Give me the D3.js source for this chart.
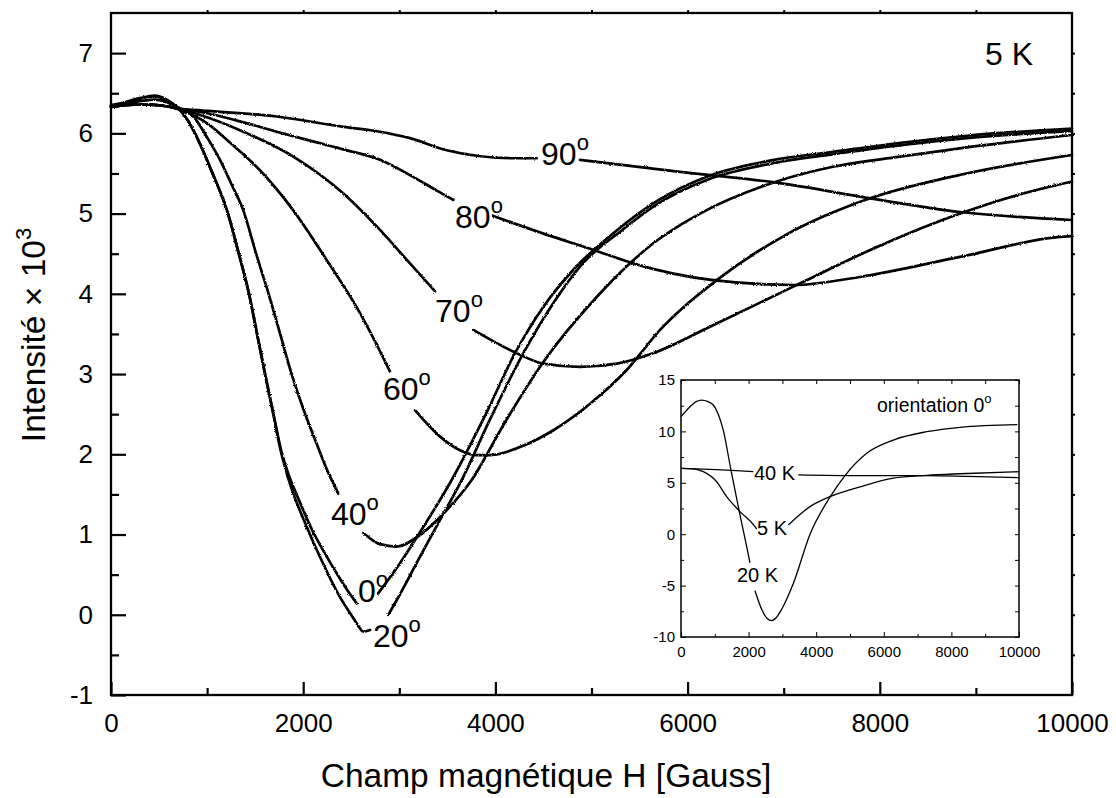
<!DOCTYPE html>
<html>
<head>
<meta charset="utf-8">
<script src="https://cdn.jsdelivr.net/npm/d3@7"></script>
<style>
  body { margin: 0; background: #fff; }
  svg { display: block; }
  text { font-family: "Liberation Sans", Arial, sans-serif; fill: #000; }
</style>
</head>
<body>
<svg id="chart" width="1116" height="798"></svg>
<script>
// ---- Main panel: EPR intensity vs field at 5 K, one trace per orientation ----
const xTicksMain = [0, 2000, 4000, 6000, 8000, 10000];
const xMinorMain = [1000, 3000, 5000, 7000, 9000];
const yTicksMain = [-1, 0, 1, 2, 3, 4, 5, 6, 7];
const yMinorMain = [-0.5, 0.5, 1.5, 2.5, 3.5, 4.5, 5.5, 6.5];

// [H (Gauss), intensity x 10^3]; null marks the gap left for the curve label
const curve0 = [[0,6.35],[150,6.39],[300,6.44],[450,6.46],[580,6.41],[684,6.33],[800,6.16],[874,6.0],[1050,5.52],[1217,5.0],[1330,4.5],[1436,4.0],[1520,3.5],[1603,3.0],[1690,2.5],[1770,2.05],[1850,1.74],[1949,1.45],[2100,1.04],[2209,0.80],[2383,0.45],[2480,0.27],[2557,0.14],null,[2782,0.27],[3000,0.63],[3216,1.03],[3545,1.68],[3900,2.5],[4204,3.26],[4500,3.84],[4811,4.30],[5262,4.79],[5700,5.17],[6200,5.46],[6900,5.67],[7517,5.77],[8200,5.88],[8904,5.97],[10000,6.06]];
const curve20 = [[0,6.34],[150,6.38],[300,6.43],[450,6.47],[580,6.42],[684,6.33],[800,6.16],[874,6.0],[1050,5.52],[1217,5.0],[1330,4.5],[1436,4.0],[1520,3.5],[1603,3.0],[1690,2.5],[1765,2.05],[1840,1.72],[1900,1.5],[2000,1.2],[2175,0.72],[2383,0.22],[2521,-0.04],[2580,-0.15],[2626,-0.21],[2695,-0.19],null,[2886,0.0],[3000,0.24],[3200,0.69],[3400,1.13],[3650,1.68],[3950,2.45],[4291,3.26],[4600,3.88],[4880,4.34],[5314,4.79],[5700,5.13],[6200,5.42],[6900,5.63],[7517,5.74],[8200,5.85],[8904,5.94],[10000,6.03]];
const curve40 = [[0,6.35],[150,6.37],[300,6.40],[450,6.42],[600,6.38],[720,6.31],[857,6.21],[1000,5.95],[1134,5.67],[1260,5.35],[1377,5.04],[1510,4.5],[1640,4.0],[1760,3.5],[1880,3.0],[2000,2.57],[2140,2.13],[2250,1.8],[2366,1.51],null,[2626,1.02],[2800,0.88],[2973,0.85],[3200,0.98],[3450,1.25],[3753,1.68],[4100,2.4],[4499,3.15],[5054,3.96],[5643,4.63],[6129,5.0],[6927,5.40],[7500,5.58],[8210,5.71],[9000,5.84],[10000,5.98]];
const curve60 = [[0,6.33],[300,6.36],[500,6.35],[700,6.30],[1030,6.1],[1204,5.92],[1550,5.54],[1897,5.04],[2245,4.42],[2591,3.76],[2834,3.2],[2903,3.03],null,[3163,2.55],[3424,2.22],[3632,2.05],[3800,1.99],[3950,1.99],[4256,2.09],[4603,2.30],[4985,2.63],[5366,3.05],[5713,3.55],[6303,4.17],[7000,4.72],[7898,5.19],[8900,5.5],[10000,5.73]];
const curve70 = [[0,6.33],[300,6.36],[500,6.35],[700,6.31],[1000,6.2],[1377,6.02],[1897,5.71],[2418,5.25],[2765,4.84],[3111,4.38],[3372,4.03],null,[3770,3.55],[4221,3.26],[4499,3.13],[4880,3.09],[5262,3.13],[5640,3.26],[6233,3.59],[7100,4.09],[8000,4.6],[8835,5.0],[9400,5.22],[10000,5.40]];
const curve80 = [[0,6.33],[300,6.36],[500,6.35],[700,6.31],[1000,6.25],[1400,6.13],[1724,6.02],[2100,5.9],[2418,5.8],[2799,5.67],[3111,5.48],[3400,5.28],[3562,5.17],null,[3978,4.97],[4500,4.75],[5016,4.55],[5432,4.38],[6265,4.17],[7099,4.11],[7794,4.21],[8835,4.46],[9875,4.71],[10000,4.72]];
const curve90 = [[0,6.33],[300,6.36],[500,6.35],[700,6.31],[1000,6.28],[1724,6.21],[2418,6.08],[2799,6.02],[3111,5.94],[3493,5.79],[4186,5.69],[4430,5.69],null,[4880,5.67],[5921,5.52],[6962,5.38],[7898,5.19],[8835,5.02],[10000,4.92]];

const mainCurves = [curve0, curve20, curve40, curve60, curve70, curve80, curve90];

// orientation labels: text, anchor [H, intensity] of the text baseline start
const angleLabels = [
  { text: "90", at: [4475, 5.604] },
  { text: "80", at: [3580, 4.819] },
  { text: "70", at: [3372, 3.648] },
  { text: "60", at: [2830, 2.676] },
  { text: "40", at: [2289, 1.118] },
  { text: "0",  at: [2570, 0.159] },
  { text: "20", at: [2726, -0.402] }
];

// ---- Inset: orientation 0°, three temperatures ----
const xTicksInset = [0, 2000, 4000, 6000, 8000, 10000];
const xMinorInset = [1000, 3000, 5000, 7000, 9000];
const yTicksInset = [-10, -5, 0, 5, 10, 15];
const yMinorInset = [-7.5, -2.5, 2.5, 7.5, 12.5];

const inset20K = [[0,11.43],[266,12.4],[450,12.9],[612,13.05],[800,12.9],[956,12.57],[1100,11.7],[1252,10.1],[1480,6.2],[1716,2.35],[1923,-0.9],[2041,-2.8],null,[2189,-5.5],[2386,-7.3],[2550,-8.2],[2683,-8.4],[2820,-8.1],[2978,-7.3],[3323,-4.8],[3817,0],[4408,3.6],[4852,5.7],[5494,7.87],[6282,9.16],[7268,9.97],[8254,10.4],[9950,10.65]];
const inset5K = [[0,6.41],[300,6.38],[660,6.08],[1056,5.1],[1350,3.65],[1745,2.2],[2189,0.74],[2239,0.5],null,[3175,0.9],[3817,2.68],[4408,3.65],[5296,4.6],[6282,5.45],[7268,5.72],[8254,5.88],[10000,6.08]];
const inset40K = [[0,6.41],[866,6.3],[1500,6.2],[2140,6.08],null,[3470,5.78],[5296,5.7],[7268,5.7],[8500,5.62],[10000,5.5]];

const insetCurves = [inset20K, inset5K, inset40K];
const insetLabels = [
  { text: "40 K", at: [2160, 5.27] },
  { text: "5 K",  at: [2249, -0.08] },
  { text: "20 K", at: [1657, -4.69] }
];

// ---------------------------------------------------------------
const svg = d3.select("#chart");
const FONT = '"Liberation Sans", Arial, sans-serif';

// slight ragged edge on the measured traces
const defs = svg.append("defs");
const rough = defs.append("filter").attr("id", "rough")
  .attr("x", "-2%").attr("y", "-2%").attr("width", "104%").attr("height", "104%");
rough.append("feTurbulence").attr("type", "fractalNoise")
  .attr("baseFrequency", 1.1).attr("numOctaves", 1).attr("seed", 4).attr("result", "n");
rough.append("feDisplacementMap").attr("in", "SourceGraphic").attr("in2", "n")
  .attr("scale", 2.6).attr("xChannelSelector", "R").attr("yChannelSelector", "G");

// main scales
const x = d3.scaleLinear().domain([0, 10000]).range([111, 1072]);
const y = d3.scaleLinear().domain([-1, 7.5]).range([695, 13]);

const line = d3.line()
  .defined(d => d !== null)
  .x(d => x(d[0])).y(d => y(d[1]))
  .curve(d3.curveMonotoneX);

svg.append("g").attr("filter", "url(#rough)")
  .selectAll("path").data(mainCurves).join("path")
  .attr("d", line)
  .attr("fill", "none").attr("stroke", "#000")
  .attr("stroke-width", 2.7).attr("stroke-linejoin", "round").attr("stroke-linecap", "round");

// frame
svg.append("rect")
  .attr("x", x(0)).attr("y", y(7.5))
  .attr("width", x(10000) - x(0)).attr("height", y(-1) - y(7.5))
  .attr("fill", "none").attr("stroke", "#000").attr("stroke-width", 2.3);

function tidy(g, size) {
  g.select(".domain").remove();
  g.attr("font-family", FONT).attr("font-size", size);
  g.selectAll("line").attr("stroke", "#000");
  g.selectAll("text").attr("fill", "#000");
}

// bottom axis (labels) + minor ticks
svg.append("g").attr("transform", `translate(0,${y(-1)})`)
  .call(d3.axisBottom(x).tickValues(xTicksMain).tickSizeInner(-13).tickSizeOuter(0)
    .tickPadding(18.5).tickFormat(d => String(d)))
  .call(g => tidy(g, 26))
  .call(g => g.selectAll("line").attr("stroke-width", 2.2));
svg.append("g").attr("transform", `translate(0,${y(-1)})`)
  .call(d3.axisBottom(x).tickValues(xMinorMain).tickSizeInner(-7).tickSizeOuter(0).tickFormat(""))
  .call(g => tidy(g, 26))
  .call(g => g.selectAll("line").attr("stroke-width", 2.2));

// left axis
svg.append("g").attr("transform", `translate(${x(0)},0)`)
  .call(d3.axisLeft(y).tickValues(yTicksMain).tickSizeInner(-15).tickSizeOuter(0)
    .tickPadding(18).tickFormat(d => String(d)))
  .call(g => tidy(g, 26))
  .call(g => g.selectAll("line").attr("stroke-width", 2.2));
svg.append("g").attr("transform", `translate(${x(0)},0)`)
  .call(d3.axisLeft(y).tickValues(yMinorMain).tickSizeInner(-8).tickSizeOuter(0).tickFormat(""))
  .call(g => tidy(g, 26))
  .call(g => g.selectAll("line").attr("stroke-width", 2.2));

// top and right: short outward marks
svg.append("g").attr("transform", `translate(0,${y(7.5)})`)
  .call(d3.axisTop(x).tickValues(d3.range(1000, 10000, 1000)).tickSizeInner(3).tickSizeOuter(0).tickFormat(""))
  .call(g => tidy(g, 26))
  .call(g => g.selectAll("line").attr("stroke-width", 2));
svg.append("g").attr("transform", `translate(${x(10000)},0)`)
  .call(d3.axisRight(y).tickValues(d3.range(-0.5, 7.5, 0.5)).tickSizeInner(3).tickSizeOuter(0).tickFormat(""))
  .call(g => tidy(g, 26))
  .call(g => g.selectAll("line").attr("stroke-width", 2));

// axis titles
svg.append("text")
  .attr("x", 546).attr("y", 787)
  .attr("text-anchor", "middle").attr("font-size", 33.5)
  .text("Champ magnétique H [Gauss]");

const yTitle = svg.append("text")
  .attr("transform", "translate(45,335) rotate(-90)")
  .attr("text-anchor", "middle").attr("font-size", 33.5);
yTitle.append("tspan").text("Intensité × 10");
yTitle.append("tspan").attr("font-size", 22).attr("dy", -14).text("3");

// temperature tag
svg.append("text").attr("x", 985).attr("y", 65).attr("font-size", 32).text("5 K");

// orientation labels with degree mark
angleLabels.forEach(l => {
  const t = svg.append("text")
    .attr("x", x(l.at[0])).attr("y", y(l.at[1]))
    .attr("font-size", 32);
  t.append("tspan").text(l.text);
  t.append("tspan").attr("font-size", 22).attr("dy", -15).text("o");
});

// ---- inset ----
const xi = d3.scaleLinear().domain([0, 10000]).range([681, 1019]);
const yi = d3.scaleLinear().domain([-10, 15]).range([637, 380]);

const inset = svg.append("g");
inset.append("rect")
  .attr("x", xi(0)).attr("y", yi(15))
  .attr("width", xi(10000) - xi(0)).attr("height", yi(-10) - yi(15))
  .attr("fill", "#fff");

const lineI = d3.line()
  .defined(d => d !== null)
  .x(d => xi(d[0])).y(d => yi(d[1]))
  .curve(d3.curveMonotoneX);

inset.append("g").selectAll("path").data(insetCurves).join("path")
  .attr("d", lineI)
  .attr("fill", "none").attr("stroke", "#000").attr("stroke-width", 1.3);

inset.append("rect")
  .attr("x", xi(0)).attr("y", yi(15))
  .attr("width", xi(10000) - xi(0)).attr("height", yi(-10) - yi(15))
  .attr("fill", "none").attr("stroke", "#000").attr("stroke-width", 1.5);

// inset ticks on all four sides, pointing inward
inset.append("g").attr("transform", `translate(0,${yi(-10)})`)
  .call(d3.axisBottom(xi).tickValues(xTicksInset).tickSizeInner(-5).tickSizeOuter(0)
    .tickPadding(9).tickFormat(d => String(d)))
  .call(g => tidy(g, 15));
inset.append("g").attr("transform", `translate(0,${yi(-10)})`)
  .call(d3.axisBottom(xi).tickValues(xMinorInset).tickSizeInner(-3).tickSizeOuter(0).tickFormat(""))
  .call(g => tidy(g, 15));
inset.append("g").attr("transform", `translate(0,${yi(15)})`)
  .call(d3.axisTop(xi).tickValues(xTicksInset.concat(xMinorInset)).tickSizeInner(-4).tickSizeOuter(0).tickFormat(""))
  .call(g => tidy(g, 15));
inset.append("g").attr("transform", `translate(${xi(0)},0)`)
  .call(d3.axisLeft(yi).tickValues(yTicksInset).tickSizeInner(-5).tickSizeOuter(0)
    .tickPadding(6).tickFormat(d => String(d)))
  .call(g => tidy(g, 15));
inset.append("g").attr("transform", `translate(${xi(0)},0)`)
  .call(d3.axisLeft(yi).tickValues(yMinorInset).tickSizeInner(-3).tickSizeOuter(0).tickFormat(""))
  .call(g => tidy(g, 15));
inset.append("g").attr("transform", `translate(${xi(10000)},0)`)
  .call(d3.axisRight(yi).tickValues(yTicksInset.concat(yMinorInset)).tickSizeInner(-4).tickSizeOuter(0).tickFormat(""))
  .call(g => tidy(g, 15));

const orient = inset.append("text")
  .attr("x", xi(5799)).attr("y", yi(11.89)).attr("font-size", 19.5);
orient.append("tspan").text("orientation 0");
orient.append("tspan").attr("font-size", 13).attr("dy", -9).text("o");

insetLabels.forEach(l => {
  inset.append("text")
    .attr("x", xi(l.at[0])).attr("y", yi(l.at[1]))
    .attr("font-size", 20).text(l.text);
});
</script>
</body>
</html>
